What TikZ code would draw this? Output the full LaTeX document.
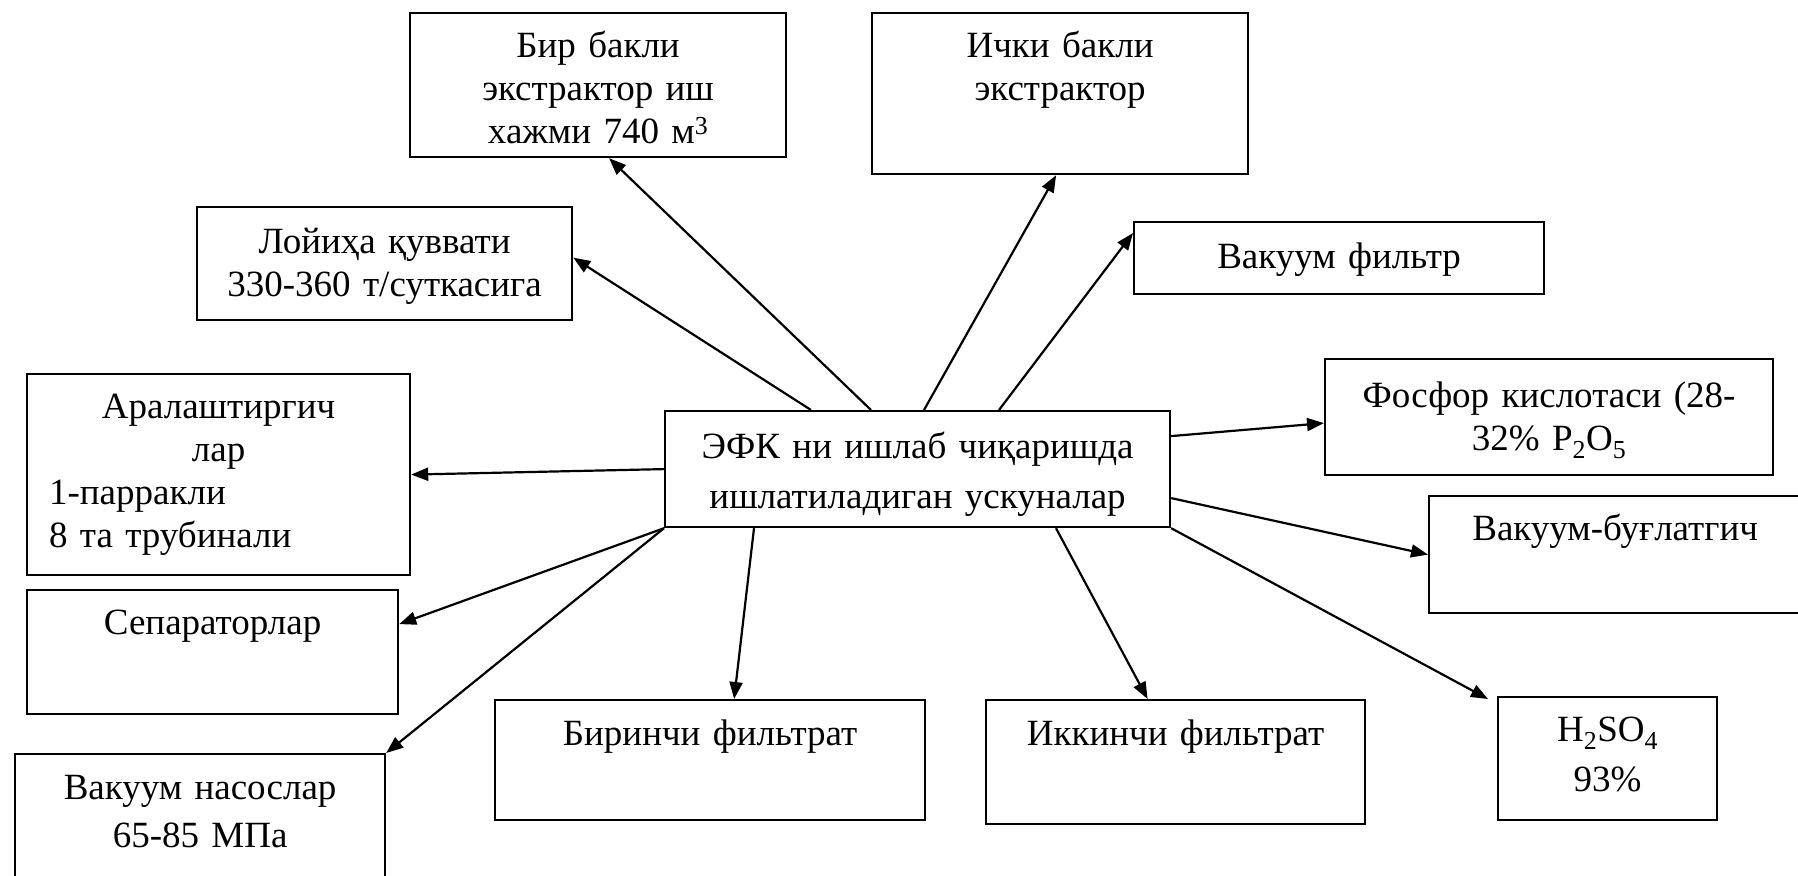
\documentclass[tikz,border=0pt]{standalone}
\usepackage{fontspec}
\setmainfont{Liberation Serif}
\usetikzlibrary{arrows.meta}

\tikzset{
  box/.style={draw, line width=2.2pt, inner sep=0pt, align=center,
    font=\fontsize{37}{43}\selectfont},
  arr/.style={line width=2.2pt, -{Triangle[length=17pt,width=13pt]}}
}

\begin{document}
\begin{tikzpicture}[x=1pt,y=-1pt]
  \useasboundingbox (0,0) rectangle (1798,875);

  \begin{scope}[every node/.style={box, anchor=north west}]
    \node[text width=376pt, text height=44pt, text depth=100pt] (bir) at (409,12)
      {Бир бакли\\экстрактор иш\\хажми 740 м\textsuperscript{3}};
    \node[text width=376pt, text height=44pt, text depth=117pt] (ichki) at (871,12)
      {Ички бакли\\экстрактор};
    \node[text width=410pt, text height=46pt, text depth=26pt] (vakfil) at (1133,221)
      {Вакуум фильтр};
    \node[text width=375pt, text height=46pt, text depth=67pt] (lojiha) at (196,206)
      {Лойиҳа қуввати\\330-360 т/суткасига};
    \node[text width=505pt, text height=47pt, text depth=69pt,
      font=\fontsize{37}{50}\selectfont] (hub) at (664,410)
      {ЭФК ни ишлаб чиқаришда\\ишлатиладиган ускуналар};
    \node[text width=448pt, text height=48pt, text depth=68pt] (fosfor) at (1324,358)
      {Фосфор кислотаси (28-\\32\% P\textsubscript{2}O\textsubscript{5}};
    \node[text width=383pt, text height=44pt, text depth=157pt] (aral) at (26,373)
      {Аралаштиргич\\лар\\
       \makebox[383pt][l]{\hspace{22pt}1-парракли}\\
       \makebox[383pt][l]{\hspace{22pt}8 та трубинали}};
    \node[text width=372pt, text height=44pt, text depth=73pt] (bugl) at (1428,495)
      {Вакуум-буғлатгич};
    \node[text width=371pt, text height=44pt, text depth=80pt] (separ) at (26,589)
      {Сепараторлар};
    \node[text width=370pt, text height=45pt, text depth=95pt] (nasos) at (14,753)
      {Вакуум насослар\\[5pt]65-85 МПа};
    \node[text width=430pt, text height=45pt, text depth=75pt] (birinchi) at (494,699)
      {Биринчи фильтрат};
    \node[text width=379pt, text height=45pt, text depth=79pt] (ikkinchi) at (985,699)
      {Иккинчи фильтрат};
    \node[text width=219pt, text height=44pt, text depth=79pt] (hsulf) at (1497,696)
      {H\textsubscript{2}SO\textsubscript{4}\\[7pt]93\%};
  \end{scope}

  \begin{scope}[every edge/.style={draw, arr}]
    \path ([xshift=147pt]hub.north west) edge ([yshift=6pt]lojiha.east);
    \path ([xshift=207pt]hub.north west) edge ([xshift=11pt]bir.south);
    \path ([xshift=260pt]hub.north west) edge ([xshift=-4pt]ichki.south);
    \path ([xshift=335pt]hub.north west) edge ([yshift=-12pt]vakfil.north west);
    \path ([yshift=33pt]hub.east) edge ([yshift=-6pt]fosfor.west);
    \path ([yshift=-29pt]hub.east) edge (bugl.west);
    \path (hub.west) edge (aral.east);
    \path (hub.south west) edge ([yshift=28pt]separ.east);
    \path (hub.south west) edge (nasos.north east);
    \path ([xshift=90pt]hub.south west) edge ([xshift=24pt]birinchi.north);
    \path ([xshift=392pt]hub.south west) edge ([xshift=-28pt]ikkinchi.north);
    \path (hub.south east) edge ([xshift=-9pt,yshift=-3pt]hsulf.north west);
  \end{scope}

\end{tikzpicture}
\end{document}
